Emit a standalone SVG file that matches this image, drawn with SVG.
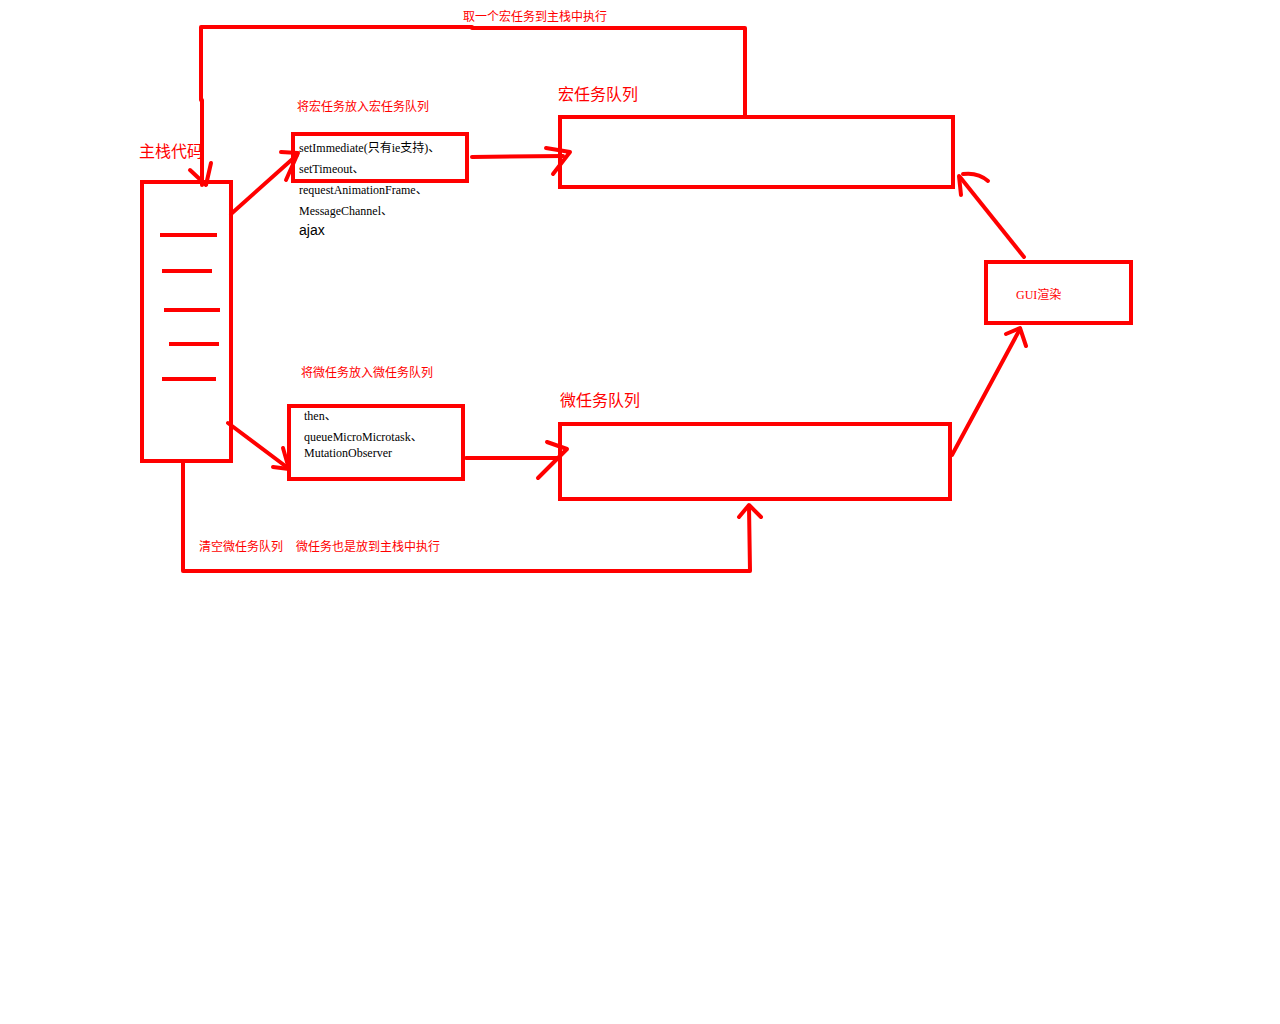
<svg xmlns="http://www.w3.org/2000/svg" width="1280" height="1024" viewBox="0 0 1280 1024">
<style>
.box{fill:none;stroke:#ff0000;stroke-width:4}
.ln{fill:none;stroke:#ff0000;stroke-width:4;stroke-linecap:round;stroke-linejoin:round}
.dash{stroke:#ff0000;stroke-width:4}
.lbl{fill:#ff0000;font-family:"Liberation Serif","Noto Sans CJK SC",serif;font-size:12px}
.big{fill:#ff0000;font-family:"Liberation Sans","Noto Sans CJK SC",sans-serif;font-size:16px}
.code{fill:#000;font-family:"Liberation Serif","Noto Sans CJK SC",serif;font-size:12px}
</style>
<rect width="1280" height="1024" fill="#fff"/>
<g id="main-stack">
<rect class="box" x="142" y="182" width="89" height="279"/>
<line class="dash" x1="160" y1="235" x2="217" y2="235"/>
<line class="dash" x1="162" y1="271" x2="212" y2="271"/>
<line class="dash" x1="164" y1="310" x2="220" y2="310"/>
<line class="dash" x1="169" y1="344" x2="219" y2="344"/>
<line class="dash" x1="162" y1="379" x2="216" y2="379"/>
<text class="big" x="139" y="157">主栈代码</text>
</g>
<g id="macro-source">
<rect class="box" x="293" y="134" width="174" height="47"/>
<text class="lbl" x="297" y="111">将宏任务放入宏任务队列</text>
<text class="code" x="299" y="152">setImmediate(只有ie支持)、</text>
<text class="code" x="299" y="173">setTimeout、</text>
<text class="code" x="299" y="194">requestAnimationFrame、</text>
<text class="code" x="299" y="215">MessageChannel、</text>
<text x="299" y="235" style="font-family:'Liberation Sans',sans-serif;font-size:14px;fill:#000">ajax</text>
</g>
<g id="macro-queue">
<rect class="box" x="560" y="117" width="393" height="70"/>
<text class="big" x="558" y="100">宏任务队列</text>
</g>
<g id="gui">
<rect class="box" x="986" y="262" width="145" height="61"/>
<text class="lbl" x="1016" y="299">GUI渲染</text>
</g>
<g id="micro-source">
<rect class="box" x="289" y="406" width="174" height="73"/>
<text class="lbl" x="301" y="377">将微任务放入微任务队列</text>
<text class="code" x="304" y="420">then、</text>
<text class="code" x="304" y="441">queueMicroMicrotask、</text>
<text class="code" x="304" y="457">MutationObserver</text>
</g>
<g id="micro-queue">
<rect class="box" x="560" y="424" width="390" height="75"/>
<text class="big" x="560" y="406">微任务队列</text>
</g>
<g id="connectors">
<polyline class="ln" points="745,116 745,28 472,28 472,27 201,27 201,100 202,100 202,185"/>
<polyline class="ln" points="190,170 206,185 211,163"/>
<text class="lbl" x="463" y="21">取一个宏任务到主栈中执行</text>
<line class="ln" x1="231" y1="214" x2="297" y2="155"/>
<polyline class="ln" points="281,152 298,153 286,180"/>
<line class="ln" x1="472" y1="157" x2="563" y2="156"/>
<polyline class="ln" points="546,148 570,152 553,174"/>
<line class="ln" x1="1024" y1="257" x2="960" y2="177"/>
<line class="ln" x1="959" y1="176" x2="961" y2="195"/>
<path class="ln" d="M963,174 Q978,172 988,181"/>
<line class="ln" x1="952" y1="455" x2="1020" y2="329"/>
<polyline class="ln" points="1006,334 1020,328 1026,346"/>
<line class="ln" x1="228" y1="423" x2="288" y2="468"/>
<polyline class="ln" points="273,467 289,469 283,448"/>
<line class="ln" x1="466" y1="458" x2="560" y2="458"/>
<polyline class="ln" points="547,442 567,449 538,478"/>
<polyline class="ln" points="183,462 183,571 750,571 749,506"/>
<polyline class="ln" points="739,517 749,505 761,517"/>
<text class="lbl" x="199" y="551">清空微任务队列</text>
<text class="lbl" x="296" y="551">微任务也是放到主栈中执行</text>
</g>
</svg>
